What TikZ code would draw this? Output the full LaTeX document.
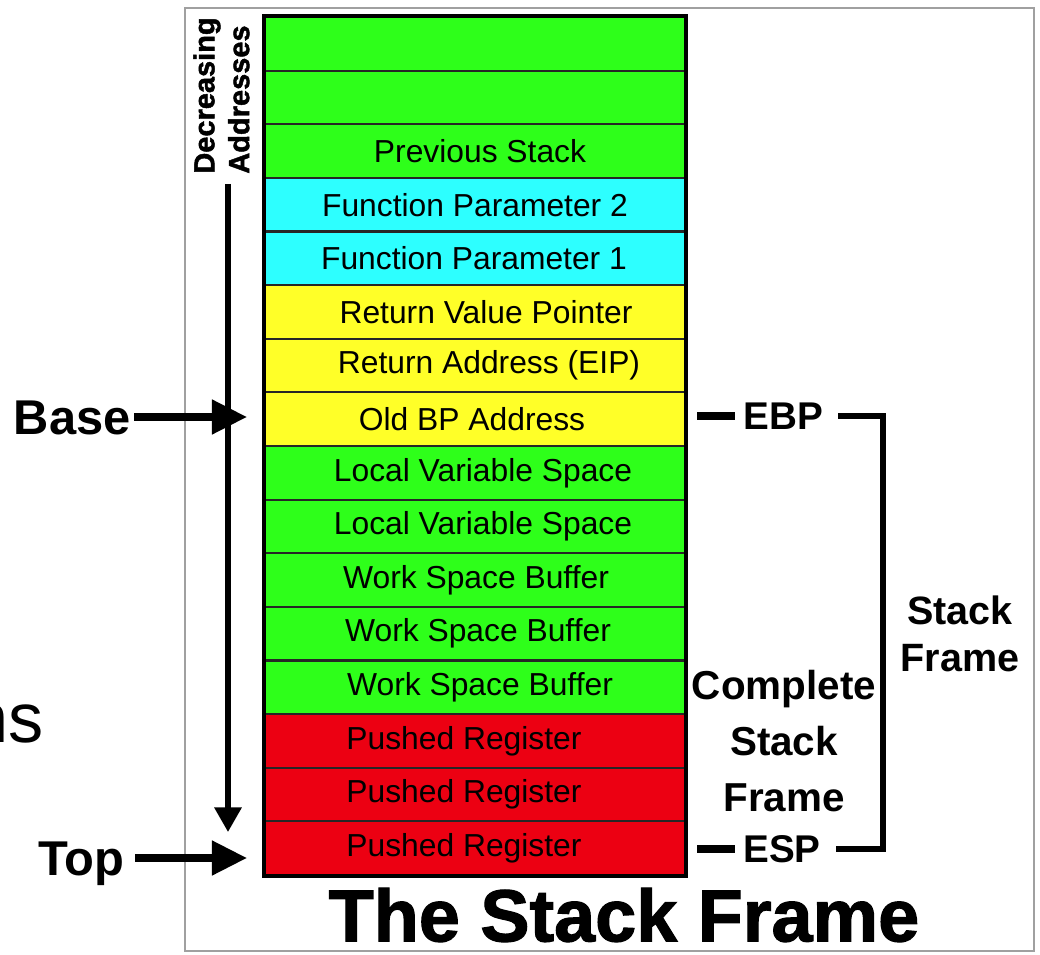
\documentclass[tikz,border=0pt]{standalone}
\usepackage{fontspec}
\setmainfont{Liberation Sans}
\newfontfamily\headfont[BoldFeatures={FakeBold=1.6}]{Liberation Sans}
\usetikzlibrary{arrows.meta,calc}

\definecolor{stackgreen}{RGB}{46,255,26}
\definecolor{stackcyan}{RGB}{45,255,255}
\definecolor{stackyellow}{RGB}{255,255,40}
\definecolor{stackred}{RGB}{236,0,18}
\definecolor{framegray}{RGB}{160,160,160}

\tikzset{
  slot/.style={draw=black!85, line width=1.2pt, minimum width=8.4cm,
    minimum height=1.0725cm, inner sep=0pt},
  slottext/.style={font=\fontsize{18.1}{20}\selectfont, inner sep=0pt},
  sidelabel/.style={font=\fontsize{27.8}{32}\selectfont\bfseries,
    inner sep=0pt, text height=20pt, text depth=0pt},
  reglabel/.style={font=\fontsize{22}{26}\selectfont\bfseries,
    inner sep=0pt, text height=15.8pt, text depth=0pt},
  bigarrow/.style={line width=4pt, -{Triangle[length=20pt,width=19pt]}},
  marker/.style={line width=4pt},
  bracket/.style={line width=3pt},
}

\begin{document}
\begin{tikzpicture}[x=0.02cm, y=-0.02cm]
\useasboundingbox (0,0) rectangle (1040,955);
\clip (0,0) rectangle (1040,955);

% grey frame round the whole figure
\draw[framegray, line width=1.2pt] (185,8) rectangle (1034,951);

% stack slots, top (high address) to bottom
\foreach \i/\col/\txt/\dx in {
  1/stackgreen//0, 2/stackgreen//0, 3/stackgreen/Previous Stack/5,
  4/stackcyan/Function Parameter 2/0, 5/stackcyan/Function Parameter 1/-1,
  6/stackyellow/Return Value Pointer/11, 7/stackyellow/Return Address (EIP)/14,
  8/stackyellow/Old BP Address/-3,
  9/stackgreen/Local Variable Space/8, 10/stackgreen/Local Variable Space/8,
  11/stackgreen/Work Space Buffer/1, 12/stackgreen/Work Space Buffer/3,
  13/stackgreen/Work Space Buffer/5,
  14/stackred/Pushed Register/-11, 15/stackred/Pushed Register/-11,
  16/stackred/Pushed Register/-11} {
  \node[slot, fill=\col] (r\i) at (475, {17+53.625*(\i-0.5)}) {};
  \node[slottext] (t\i) at ($(r\i.center)+(\dx,0)$) {\txt};
}
\draw[line width=2pt] (r1.north west) rectangle (r16.south east);

% growth direction
\node[rotate=90, anchor=north west, align=left, inner sep=0pt,
  font=\fontsize{16.5}{19.8}\selectfont\headfont\bfseries] (dec) at (193,174)
  {Decreasing\\Addresses};
\coordinate (dtop) at (228,184);
\coordinate (dtip) at (228,832);
\draw[line width=3pt, -{Triangle[length=14pt,width=15pt]}] (dtop) -- (dtip);

% base and top pointers
\node[sidelabel, anchor=east] (base) at (131,417) {Base};
\node[sidelabel, anchor=east] (top) at (125,858) {Top};
\draw[bigarrow, shorten >=0.34cm, shorten <=0.06cm] (base.east) -- (base.east -| r8.west);
\draw[bigarrow, shorten >=0.34cm, shorten <=0.2cm] (top.east) -- (top.east -| r16.west);

% registers and frame bracket
\node[reglabel, anchor=west] (ebp) at (743,416) {EBP};
\node[reglabel, anchor=west] (esp) at (743,849) {ESP};
\draw[marker] ([xshift=-0.92cm]ebp.west) -- ([xshift=-0.16cm]ebp.west);
\draw[marker] ([xshift=-0.92cm]esp.west) -- ([xshift=-0.16cm]esp.west);
\coordinate (bk) at (883,0);
\draw[bracket] ([xshift=0.3cm]ebp.east) -| (bk |- esp.east) -- ([xshift=0.3cm]esp.east);

\node[align=center, inner sep=0pt, font=\fontsize{23}{31.7}\selectfont\bfseries]
  (cframe) at (784,741) {Complete\\Stack\\Frame};
\node[align=center, inner sep=0pt, font=\fontsize{22.5}{26.6}\selectfont\bfseries]
  (sframe) at (960,634) {Stack\\Frame};

\node[inner sep=0pt, font=\fontsize{42}{46}\selectfont\headfont\bfseries,
  text height=30pt, text depth=0pt] (title) at (624,915) {The Stack Frame};

\node[anchor=base east, inner sep=0pt, font=\fontsize{40}{44}\selectfont] (ns) at (44,742) {ns};
\end{tikzpicture}
\end{document}
